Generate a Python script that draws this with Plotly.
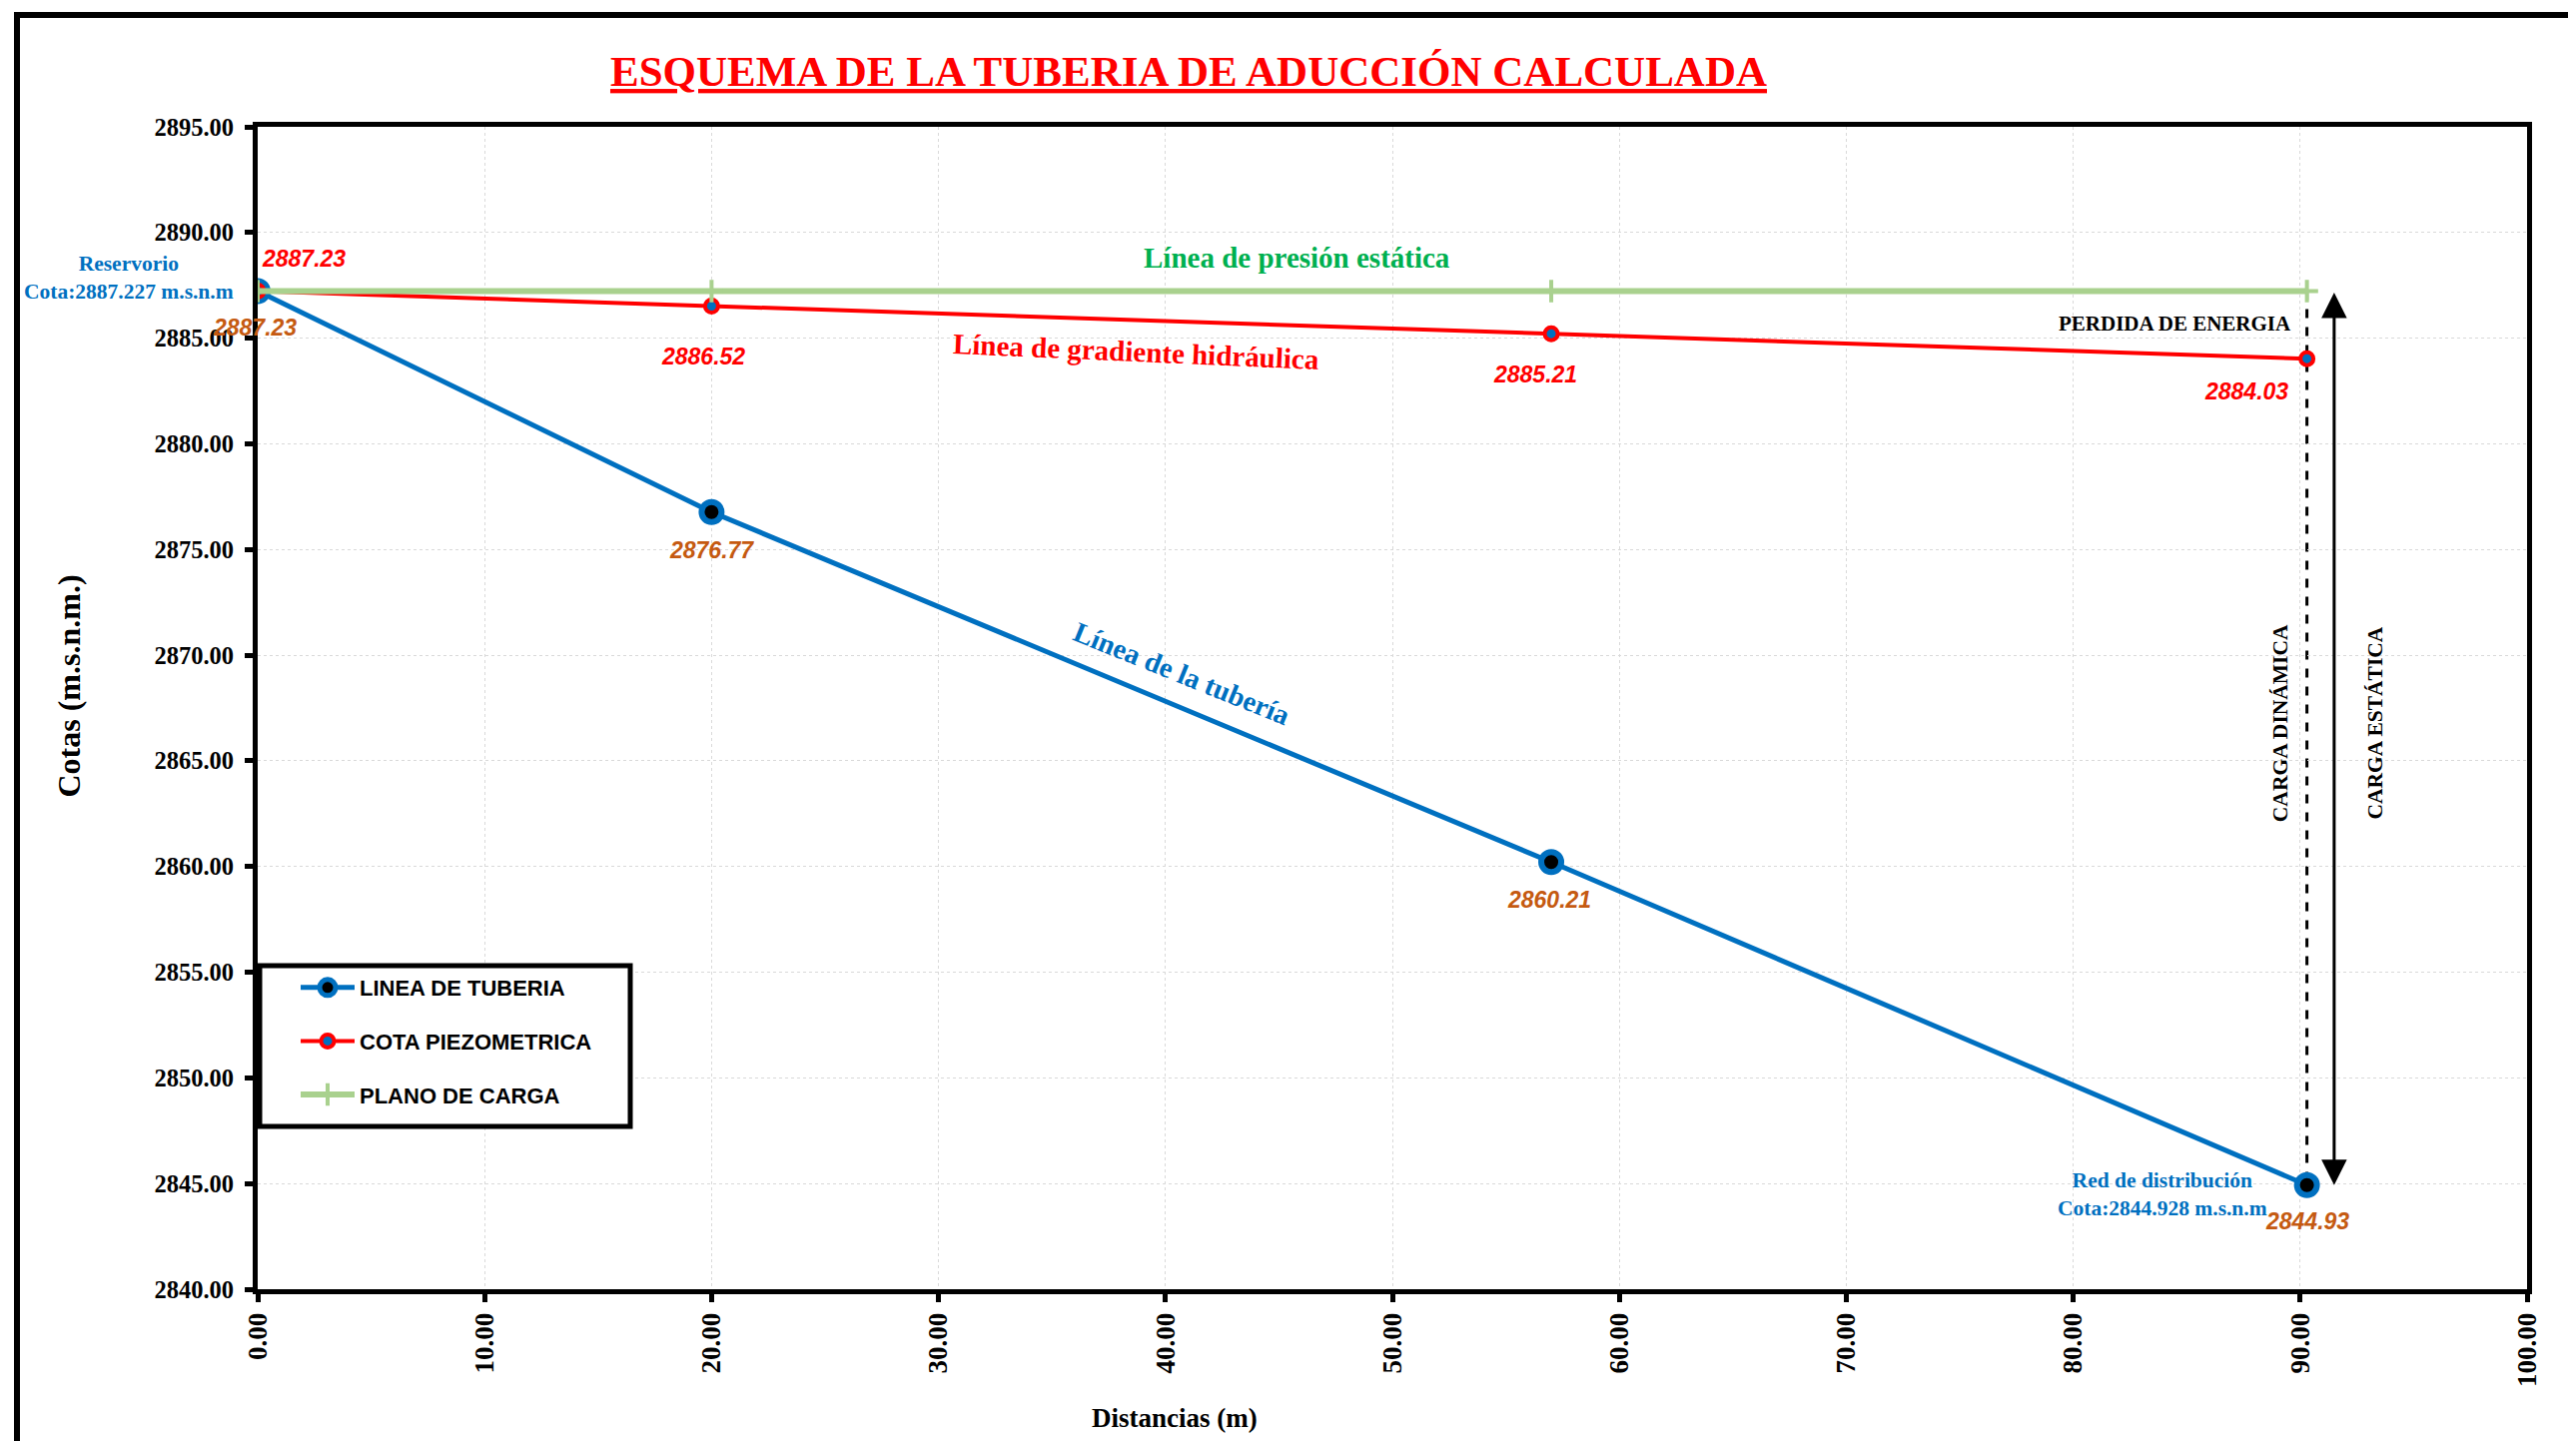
import plotly.graph_objects as go

# ---------------- data ----------------
distancias = [0.0, 20.0, 57.0, 90.3]
cota_tuberia = [2887.227, 2876.77, 2860.21, 2844.928]
cota_piezometrica = [2887.227, 2886.52, 2885.21, 2884.03]
plano_carga = [2887.227, 2887.227, 2887.227, 2887.227]

nombres_series = ["LINEA DE TUBERIA", "COTA PIEZOMETRICA", "PLANO DE CARGA"]
titulo = "ESQUEMA DE LA TUBERIA DE ADUCCIÓN CALCULADA"
x_ticks = [0, 10, 20, 30, 40, 50, 60, 70, 80, 90, 100]
y_ticks = [2840, 2845, 2850, 2855, 2860, 2865, 2870, 2875, 2880, 2885, 2890, 2895]

# ---------------- styles ----------------
BLUE = "#0070C0"
RED = "#FF0000"
GREEN_LINE = "#A9D18E"
GREEN_TXT = "#00B050"
ORANGE = "#C55A11"
SERIF = "Liberation Serif, Times New Roman, serif"
NARROW = "Liberation Sans Narrow, Arial Narrow, Liberation Sans, Arial, sans-serif"

OFF = 8                      # page body margin
W, H = 2571, 1435
PL, PT, PW, PH = 258, 127, 2272, 1164   # plot area in page pixels
PB = PT + PH
ML, MT = PL - OFF, PT - OFF
MR = W - ML - PW
MB = H - MT - PH


def px(x):  # page pixel -> paper x
    return (x - PL) / PW


def py(y):  # page pixel -> paper y
    return (PB - y) / PH


fig = go.Figure()

fig.add_trace(go.Scatter(
    x=distancias, y=cota_tuberia, name=nombres_series[0], legendgroup="a",
    mode="lines+markers",
    line=dict(color=BLUE, width=5),
    marker=dict(size=20, color="black", line=dict(color=BLUE, width=6)),
))
fig.add_trace(go.Scatter(
    x=distancias, y=cota_piezometrica, name=nombres_series[1], legendgroup="b",
    mode="lines+markers",
    line=dict(color=RED, width=4),
    marker=dict(size=13, color=BLUE, line=dict(color=RED, width=4)),
))
fig.add_trace(go.Scatter(
    x=distancias, y=plano_carga, name=nombres_series[2], legendgroup="c",
    mode="lines+markers",
    line=dict(color=GREEN_LINE, width=6),
    marker=dict(size=16, symbol="cross-thin", color=GREEN_LINE,
                line=dict(color=GREEN_LINE, width=4)),
))

annotations = []

# data labels
red_shift = [(46, 33), (-8, -51), (-16, -41), (-61, -33)]
for xi, yi, (dx, dy) in zip(distancias, cota_piezometrica, red_shift):
    annotations.append(dict(x=xi, y=yi, xref="x", yref="y", showarrow=False,
                            text=f"<b><i>{yi:.2f}</i></b>", xshift=dx, yshift=dy,
                            font=dict(family=NARROW, size=23, color=RED)))
orange_shift = [(-3, -36), (0, -38), (-2, -38), (0, -36)]
for xi, yi, (dx, dy) in zip(distancias, cota_tuberia, orange_shift):
    annotations.append(dict(x=xi, y=yi, xref="x", yref="y", showarrow=False,
                            text=f"<b><i>{yi:.2f}</i></b>", xshift=dx, yshift=dy,
                            font=dict(family=NARROW, size=23, color=ORANGE)))

# reservoir / distribution labels
annotations.append(dict(x=distancias[0], y=cota_tuberia[0], xref="x", yref="y",
                        showarrow=False, xanchor="right", yanchor="middle", align="center",
                        xshift=-22, yshift=14,
                        text=f"<b>Reservorio<br>Cota:{cota_tuberia[0]:.3f} m.s.n.m</b>",
                        font=dict(family=SERIF, size=21.5, color=BLUE)))
annotations.append(dict(x=distancias[-1], y=cota_tuberia[-1], xref="x", yref="y",
                        showarrow=False, xanchor="right", yanchor="middle", align="center",
                        xshift=-38, yshift=-9,
                        text=f"<b>Red de distribución<br>Cota:{cota_tuberia[-1]:.3f} m.s.n.m</b>",
                        font=dict(family=SERIF, size=21.5, color=BLUE)))

# line names
annotations.append(dict(x=45.8, y=2888.81, xref="x", yref="y", showarrow=False,
                        text="<b>Línea de presión estática</b>",
                        font=dict(family=SERIF, size=29, color=GREEN_TXT)))
annotations.append(dict(x=38.7, y=2884.37, xref="x", yref="y", showarrow=False,
                        text="<b>Línea de gradiente hidráulica</b>", textangle=2.5,
                        font=dict(family=SERIF, size=29, color=RED)))
annotations.append(dict(x=40.7, y=2869.15, xref="x", yref="y", showarrow=False,
                        text="<b>Línea de la tubería</b>", textangle=22,
                        font=dict(family=SERIF, size=28.5, color=BLUE)))
annotations.append(dict(x=89.7, y=2885.69, xref="x", yref="y", showarrow=False,
                        xanchor="right", text="<b>PERDIDA DE ENERGIA</b>",
                        font=dict(family=SERIF, size=21, color="black")))
annotations.append(dict(x=89.1, y=2866.8, xref="x", yref="y", showarrow=False,
                        text="<b>CARGA DINÁMICA</b>", textangle=-90,
                        font=dict(family=SERIF, size=21.5, color="black")))
annotations.append(dict(x=93.3, y=2866.8, xref="x", yref="y", showarrow=False,
                        text="<b>CARGA ESTÁTICA</b>", textangle=-90,
                        font=dict(family=SERIF, size=21.5, color="black")))

# double arrow (static head)
x_flecha = 91.5
annotations.append(dict(x=x_flecha, y=cota_tuberia[-1], ax=x_flecha, ay=plano_carga[-1],
                        xref="x", yref="y", axref="x", ayref="y", text="",
                        showarrow=True, arrowhead=2, arrowside="end+start",
                        arrowsize=1.7, arrowwidth=3, arrowcolor="black"))

# axis titles
annotations.append(dict(x=px(69), y=py(418 * 1.6448), xref="paper", yref="paper",
                        xanchor="center", yanchor="middle",
                        showarrow=False, textangle=-90, text="<b>Cotas (m.s.n.m.)</b>",
                        font=dict(family=SERIF, size=32, color="black")))
annotations.append(dict(x=px(1176), y=py(1420), xref="paper", yref="paper",
                        xanchor="center", yanchor="middle",
                        showarrow=False, text="<b>Distancias (m)</b>",
                        font=dict(family=SERIF, size=27, color="black")))

shapes = [
    # dashed vertical line (dynamic head)
    dict(type="line", xref="x", yref="y", x0=distancias[-1], x1=distancias[-1],
         y0=plano_carga[-1], y1=cota_tuberia[-1],
         line=dict(color="black", width=3, dash="dash"), layer="below"),
    # outer frame
    dict(type="rect", xref="paper", yref="paper",
         x0=px(17), x1=px(2640), y0=py(1500), y1=py(15),
         line=dict(color="black", width=6)),
    # legend box
    dict(type="rect", xref="paper", yref="paper",
         x0=px(260), x1=px(631), y0=py(1128), y1=py(967),
         fillcolor="white", line=dict(color="black", width=5), layer="above"),
]

axis_common = dict(showgrid=True, gridcolor="#D9D9D9", griddash="dot", gridwidth=1,
                   showline=True, linecolor="black", linewidth=5, mirror=True,
                   ticks="outside", tickcolor="black", ticklen=8, tickwidth=5,
                   zeroline=False, tickformat=".2f")

fig.update_layout(
    width=W, height=H,
    margin=dict(l=ML, r=MR, t=MT, b=MB),
    paper_bgcolor="white", plot_bgcolor="white",
    title=dict(text=f"<b><u>{titulo}</u></b>", x=(1190 - OFF) / W, xref="container",
               xanchor="center", y=1 - (71 - OFF) / H, yref="container", yanchor="middle",
               font=dict(family=SERIF, size=43, color=RED)),
    xaxis=dict(range=[0, 100], tickvals=x_ticks, tickangle=-90,
               tickfont=dict(family=SERIF, size=27, color="black", weight="bold"),
               **axis_common),
    yaxis=dict(range=[2840, 2895], tickvals=y_ticks, ticklabelstandoff=6,
               tickfont=dict(family=SERIF, size=24.5, color="black", weight="bold"),
               **axis_common),
    legend=dict(x=px(296), xanchor="left", xref="paper", y=py(968), yanchor="top",
                bgcolor="rgba(0,0,0,0)", borderwidth=0,
                font=dict(family=NARROW, size=22, color="black", weight="bold"),
                traceorder="grouped", tracegroupgap=22, itemwidth=54),
    annotations=annotations,
    shapes=shapes,
    showlegend=True,
)

fig.write_html("out.html")
